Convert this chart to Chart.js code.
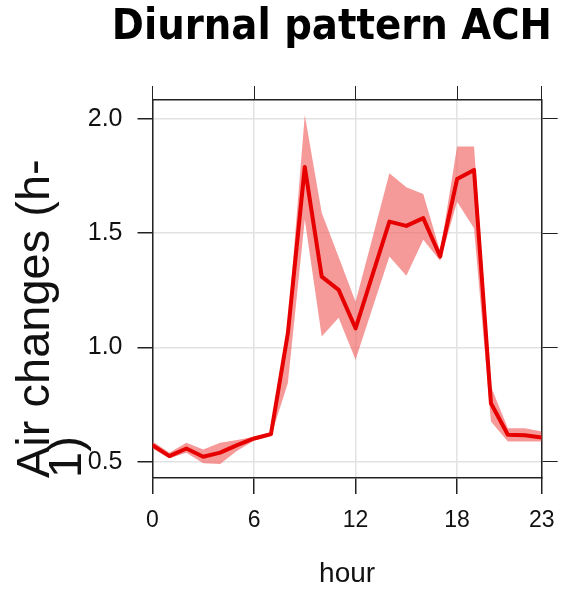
<!DOCTYPE html>
<html>
<head>
<meta charset="utf-8">
<script src="https://cdn.jsdelivr.net/npm/chart.js@4"></script>
<style>
  body { margin: 0; background: #fff; }
  #wrap { width: 564px; height: 591px; }
</style>
</head>
<body>
<div id="wrap"><canvas id="diagram" width="564" height="591"></canvas></div>
<script>
// data
const hours = [0, 1, 2, 3, 4, 5, 6, 7, 8, 9, 10, 11, 12, 13, 14, 15, 16, 17, 18, 19, 20, 21, 22, 23];
const ach = [0.573, 0.525, 0.558, 0.522, 0.54, 0.573, 0.602, 0.621, 1.063, 1.79, 1.31, 1.252, 1.084, 1.318, 1.551, 1.532, 1.566, 1.398, 1.737, 1.777, 0.756, 0.618, 0.616, 0.606];
const upper = [0.59, 0.54, 0.583, 0.554, 0.583, 0.595, 0.609, 0.63, 1.10, 2.017, 1.59, 1.396, 1.2, 1.48, 1.762, 1.701, 1.672, 1.42, 1.879, 1.879, 0.829, 0.647, 0.647, 0.633];
const lower = [0.558, 0.515, 0.54, 0.493, 0.49, 0.548, 0.592, 0.612, 0.845, 1.56, 1.048, 1.13, 0.946, 1.173, 1.398, 1.314, 1.471, 1.38, 1.638, 1.522, 0.676, 0.589, 0.589, 0.589];
const xTicks = [0, 6, 12, 18, 23];
const yTicks = [0.5, 1.0, 1.5, 2.0];

const toXY = arr => arr.map((v, i) => ({ x: hours[i], y: v }));

const axisColor = '#222';
const gridColor = '#e2e2e2';

function setTicks(list) {
    return function(scale) {
        scale.ticks = list.map(v => ({ value: v }));
    };
}

// ukuran kotak sumbu dibuat tetap
function fixSize(w, h) {
    return function(s) {
        if (w !== null) s.width = w;
        if (h !== null) s.height = h;
        s.paddingLeft = 0;
        s.paddingRight = 0;
        s.paddingTop = 0;
        s.paddingBottom = 0;
    };
}

const config = {
    type: 'line',
    data: {
        datasets: [
            {
                label: 'upper',
                data: toXY(upper),
                borderWidth: 0,
                pointRadius: 0,
                backgroundColor: 'rgba(242, 105, 105, 0.68)',
                fill: '+1',
                order: 2
            },
            {
                label: 'lower',
                data: toXY(lower),
                borderWidth: 0,
                pointRadius: 0,
                fill: false,
                order: 3
            },
            {
                label: 'ACH',
                data: toXY(ach),
                borderColor: '#e60000',
                borderWidth: 4,
                borderJoinStyle: 'round',
                pointRadius: 0,
                fill: false,
                order: 0
            }
        ]
    },
    options: {
        responsive: false,
        devicePixelRatio: 1,
        animation: false,
        layout: { autoPadding: false, padding: { left: 0, right: 12, top: 0, bottom: 0 } },
        plugins: {
            legend: { display: false },
            tooltip: { enabled: false },
            title: {
                display: true,
                text: 'Diurnal pattern ACH',
                align: 'end',
                color: '#000',
                font: { family: "'DejaVu Sans Condensed', 'DejaVu Sans'", size: 43, weight: 'bold', lineHeight: 1.2 },
                padding: { top: 2, bottom: 32.4 }
            }
        },
        scales: {
            x: {
                type: 'linear',
                position: 'bottom',
                min: 0,
                max: 23,
                afterBuildTicks: setTicks(xTicks),
                afterFit: fixSize(null, 113),
                grid: { color: gridColor, lineWidth: 1.5, tickColor: axisColor, tickLength: 16 },
                border: { color: axisColor, width: 1.5 },
                ticks: { color: '#111', padding: 13, font: { family: "'Liberation Sans', Arial", size: 23 } },
                title: {
                    display: true,
                    text: 'hour',
                    color: '#111',
                    font: { family: "'Liberation Sans', Arial", size: 28 },
                    padding: { top: 0, bottom: 0 }
                }
            },
            x2: {
                type: 'linear',
                position: 'top',
                min: 0,
                max: 23,
                afterBuildTicks: setTicks(xTicks),
                afterFit: fixSize(null, 14),
                grid: { drawOnChartArea: false, tickColor: axisColor, tickLength: 14 },
                border: { color: axisColor, width: 1.5 },
                ticks: { display: false }
            },
            y: {
                type: 'linear',
                position: 'left',
                min: 0.429,
                max: 2.083,
                afterBuildTicks: setTicks(yTicks),
                afterFit: fixSize(152.5, null),
                grid: { color: gridColor, lineWidth: 1.5, tickColor: axisColor, tickLength: 15 },
                border: { color: axisColor, width: 1.5 },
                ticks: {
                    color: '#111',
                    padding: 15,
                    font: { family: "'Liberation Sans', Arial", size: 25 },
                    callback: v => v.toFixed(1)
                },
                title: {
                    display: true,
                    text: ['Air changes (h-', '1)'],
                    align: 'start',
                    color: '#111',
                    font: { family: "'Liberation Sans', Arial", size: 47, lineHeight: 0.68 },
                    padding: { top: 20, bottom: 0 }
                }
            },
            y2: {
                type: 'linear',
                position: 'right',
                min: 0.429,
                max: 2.083,
                afterBuildTicks: setTicks(yTicks),
                afterFit: fixSize(10.3, null),
                grid: { drawOnChartArea: false, tickColor: axisColor, tickLength: 16 },
                border: { color: axisColor, width: 1.5 },
                ticks: { display: false }
            }
        }
    }
};

const myChart = new Chart(document.getElementById('diagram'), config);
</script>
</body>
</html>
